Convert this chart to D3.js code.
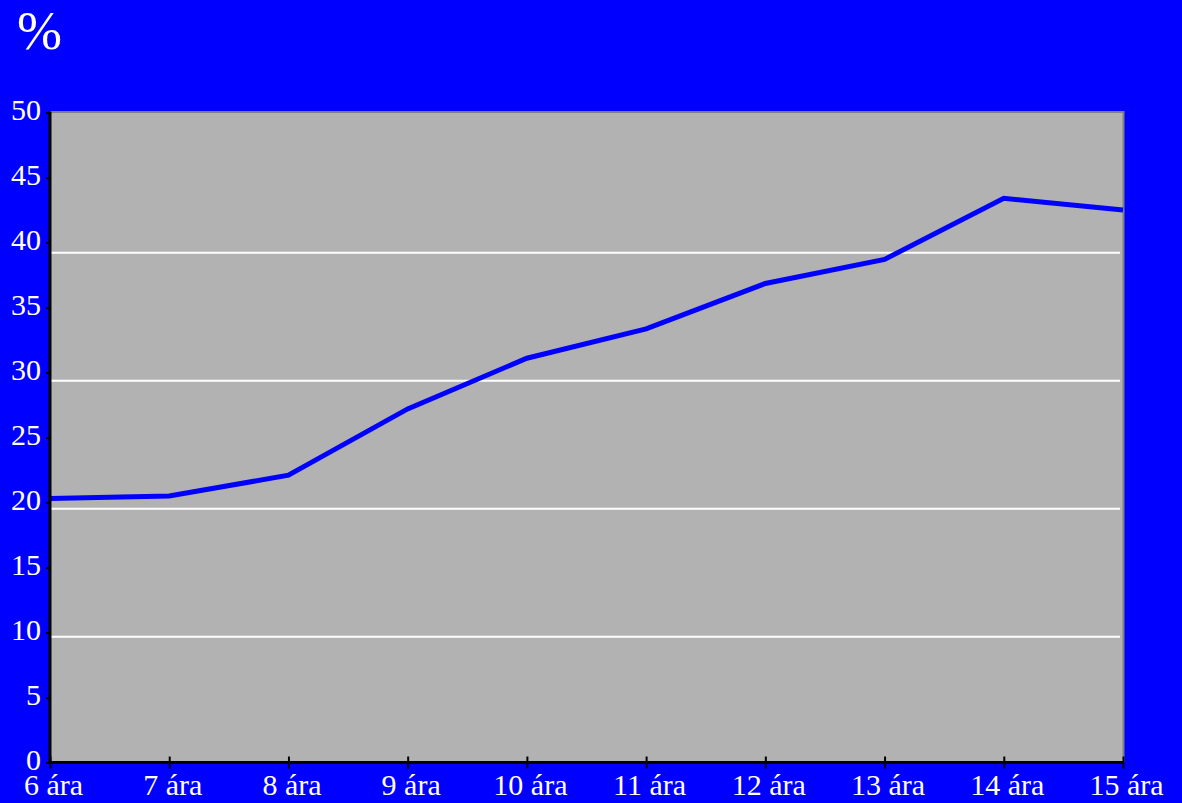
<!DOCTYPE html>
<html>
<head>
<meta charset="utf-8">
<script src="https://cdn.jsdelivr.net/npm/d3@7"></script>
<style>
  html, body { margin: 0; padding: 0; background: #0000ff; }
  svg { display: block; }
  text { font-family: "Liberation Serif", "Times New Roman", serif; fill: #ffffff; }
</style>
</head>
<body>
<svg id="chart" width="1182" height="803"></svg>
<script>
// Age groups along the x axis
const categories = ["6 ára", "7 ára", "8 ára", "9 ára", "10 ára", "11 ára", "12 ára", "13 ára", "14 ára", "15 ára"];
// Percentage per age group
const values = [20.3, 20.5, 22.1, 27.2, 31.1, 33.35, 36.85, 38.7, 43.4, 42.5];
// Y axis tick values
const yTicks = [0, 5, 10, 15, 20, 25, 30, 35, 40, 45, 50];
// Horizontal gridline levels
const gridLevels = [9.67, 19.52, 29.36, 39.21];
const unitLabel = "%";

(function draw() {
  const svg = d3.select("#chart");
  const plotLeft = 50, plotRight = 1123, plotTop = 112.5, plotBottom = 762.5;

  const x = d3.scalePoint().domain(categories).range([plotLeft, plotRight]);
  const y = d3.scaleLinear().domain([0, 50]).range([plotBottom, plotTop]);

  // Plot background
  svg.append("rect")
    .attr("x", plotLeft).attr("y", plotTop)
    .attr("width", plotRight - plotLeft).attr("height", plotBottom - plotTop)
    .attr("fill", "#b2b2b2");

  // Top and right frame edges
  svg.append("path")
    .attr("d", `M${plotLeft},${plotTop - 0.5}H${plotRight + 0.5}V${plotBottom}`)
    .attr("fill", "none").attr("stroke", "#808080").attr("stroke-width", 2);

  // Gridlines
  svg.append("g").selectAll("line").data(gridLevels).join("line")
    .attr("x1", plotLeft + 1).attr("x2", plotRight - 3)
    .attr("y1", d => y(d)).attr("y2", d => y(d))
    .attr("stroke", "#ffffff").attr("stroke-width", 2);

  // Data line
  svg.append("path")
    .datum(values)
    .attr("fill", "none")
    .attr("stroke", "#0000ff")
    .attr("stroke-width", 5)
    .attr("stroke-linejoin", "miter")
    .attr("d", d3.line().x((d, i) => x(categories[i])).y(d => y(d)));

  // Y axis
  const yAxis = svg.append("g")
    .attr("transform", `translate(${plotLeft},0)`)
    .call(d3.axisLeft(y).tickValues(yTicks).tickSize(4).tickPadding(5).tickFormat(d3.format("d")));
  yAxis.select(".domain").attr("stroke", "#000").attr("stroke-width", 3).attr("d", `M0,${plotTop - 1}V${plotBottom + 1}`);
  yAxis.selectAll(".tick line").attr("stroke", "#000").attr("stroke-width", 2);
  yAxis.selectAll(".tick text")
    .attr("fill", "#fff").style("font-size", "30px")
    .attr("dy", "0.24em");

  // X axis
  const xAxis = svg.append("g")
    .attr("transform", `translate(0,${plotBottom})`)
    .call(d3.axisBottom(x).tickSize(6).tickPadding(2));
  xAxis.select(".domain").attr("stroke", "#000").attr("stroke-width", 3).attr("d", `M${plotLeft - 2},0H${plotRight + 1}`);
  xAxis.selectAll(".tick line").attr("stroke", "#000").attr("stroke-width", 2).attr("y1", -6).attr("y2", 6);
  xAxis.selectAll(".tick text")
    .attr("fill", "#fff").style("font-size", "30px")
    .attr("y", 0).attr("dy", "32px")
    .attr("dx", "3px");

  // Unit label
  svg.append("text")
    .attr("x", 17).attr("y", 49)
    .style("font-size", "54px")
    .text(unitLabel);
})();
</script>
</body>
</html>
